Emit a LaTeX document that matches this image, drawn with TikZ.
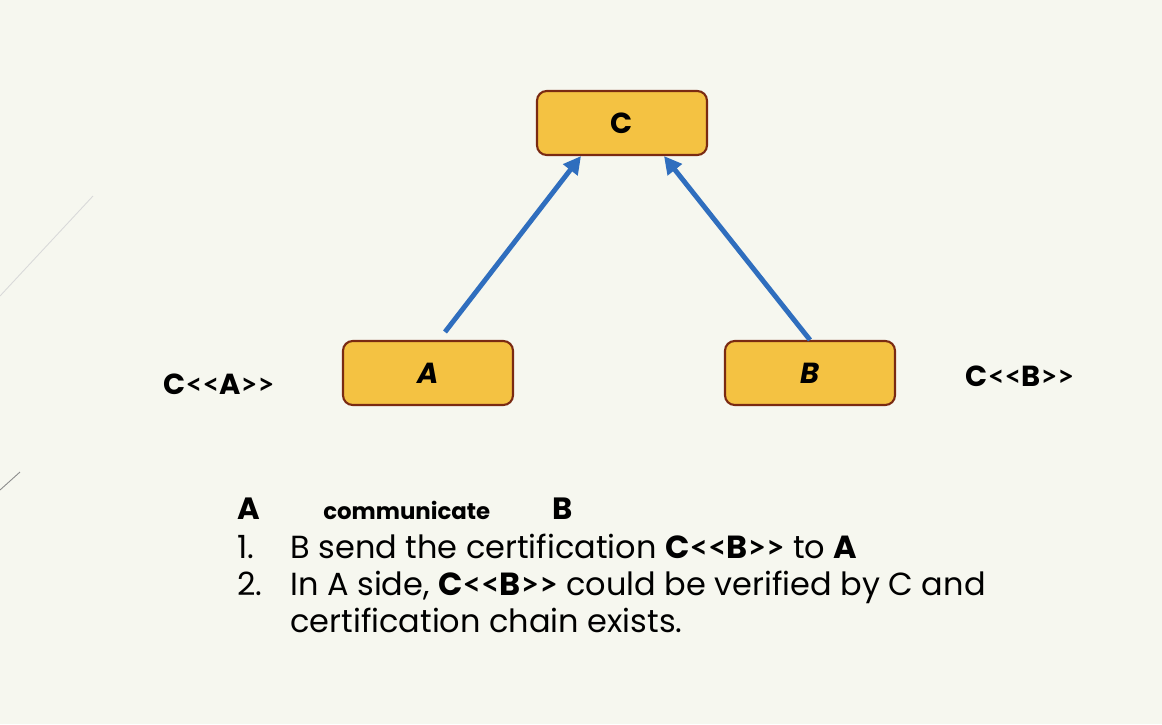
\documentclass[tikz,border=0pt]{standalone}
\usepackage{fontspec}
\setmainfont{Poppins}
\newfontfamily\signfont{Lato}
\usepackage{tikz}
\usetikzlibrary{
    arrows.meta,  % arrow tips
    positioning,  % better custom positioning
}
\definecolor{bgcol}{HTML}{F6F7EF}
\definecolor{boxfill}{HTML}{F4C242}
\definecolor{boxline}{HTML}{7A2A12}
\definecolor{arrowblue}{HTML}{2F6EBE}
\newcommand{\certof}[1]{C{\signfont<{}<}#1{\signfont>{}>}}
\tikzset{
    certbox/.style={draw=boxline, line width=1.2pt, fill=boxfill, rounded corners=5.5pt,
        minimum width=3.4cm, minimum height=1.28cm, inner sep=0pt, font=\fontsize{16.5}{18}\selectfont\bfseries},
    signarrow/.style={draw=arrowblue, line width=2.8pt, -{Triangle[length=10pt, width=10pt]}},
    certlabel/.style={font=\fontsize{16.5}{18}\selectfont\bfseries},
    listline/.style={anchor=base west, inner sep=0pt, font=\fontsize{18.2}{22}\selectfont},
}

\begin{document}
\begin{tikzpicture}[x=0.02cm, y=-0.02cm]
            \fill[bgcol] (0, 0) rectangle (1162, 724);
            \useasboundingbox (0, 0) rectangle (1162, 724);
            \draw[black!15, line width=0.5pt] (93, 196) -- (0, 296);
            \draw[black!45, line width=0.5pt] (20, 472) -- (0, 490);
    
            \node[certbox] (c) at (622, 123) {C};
            \node[certbox] (a) at (428, 373) {\itshape A};
            \node[certbox] (b) at (810, 373) {\itshape B};
            \coordinate (afoot) at (445, 332);
            \draw[signarrow] (afoot) -- (c.south west -| 581, 0);
            \draw[signarrow] (b.north) -- (c.south east -| 664, 0);
    
            \node[certlabel] (ca) at (219, 384) {\certof{A}};
            \node[certlabel] (cb) at (1020, 376) {\certof{B}};
    
            \node[listline, font=\fontsize{17.5}{20}\selectfont\bfseries] (pa) at (237, 519) {A};
            \node[listline, font=\fontsize{13}{16}\selectfont\bfseries] (comm) at (323, 519) {communicate};
            \node[listline, font=\fontsize{17.5}{20}\selectfont\bfseries] (pb) at (552, 519) {B};
            \node[listline] (n1) at (237, 558) {1.};
            \node[listline] (l1) at (290, 558) {B send the certification \textbf{\certof{B}} to \textbf{A}};
            \node[listline] (n2) at (237, 595) {2.};
            \node[listline] (l2) at (290, 595) {In A side, \textbf{\certof{B}} could be verified by C and};
            \node[listline] (l3) at (290, 632) {certification chain exists.};
        \end{tikzpicture}
\end{document}
